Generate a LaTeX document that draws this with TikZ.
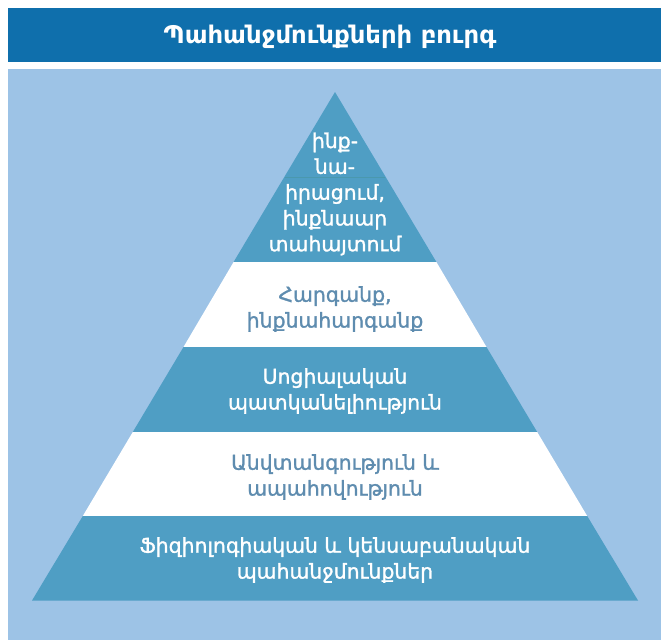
\documentclass[tikz,border=0pt]{standalone}
\usepackage{fontspec}
\setmainfont{DejaVu Sans}
\newfontfamily\semibfont[FakeBold=1.4]{DejaVu Sans}
\definecolor{titlebar}{HTML}{0F6FAC}
\definecolor{panel}{HTML}{9DC3E6}
\definecolor{band}{HTML}{4F9EC4}
\definecolor{bandline}{HTML}{4A98AE}
\definecolor{softtext}{HTML}{5E8CAF}
\tikzset{
  layertext/.style={align=center, font=\semibfont\fontsize{20.4}{25.8}\selectfont, inner sep=0pt},
  ontblue/.style={layertext, text=white},
  onwhite/.style={layertext, text=softtext},
}
\begin{document}
\begin{tikzpicture}[x=1pt,y=-1pt]
\useasboundingbox (0,0) rectangle (661,640);
\fill[white] (0,0) rectangle (661,640);
% title bar
\fill[titlebar] (8,8) rectangle (661,62);
\node[text=white, font=\fontsize{24.3}{28}\selectfont\bfseries, inner sep=0pt] (title) at (330,37) {Պահանջմունքների բուրգ};
% panel
\fill[panel] (8,69) rectangle (661,640);
% pyramid layers (apex 335,92 ; base 32..638 at 600)
\fill[band] (335,92) -- (436.4,262) -- (233.6,262) -- cycle;
\draw[bandline, line width=0.6pt] (284.6,177) -- (385.4,177);
\fill[white] (233.6,262) -- (436.4,262) -- (486.5,347) -- (183.5,347) -- cycle;
\fill[band] (183.5,347) -- (486.5,347) -- (537.2,432) -- (132.8,432) -- cycle;
\fill[white] (132.8,432) -- (537.2,432) -- (587.2,516) -- (82.8,516) -- cycle;
\fill[band] (82.8,516) -- (587.2,516) -- (638,600.5) -- (32,600.5) -- cycle;
% texts
\node[ontblue] (l5) at (335,194) {ինք-\\նա-\\իրացում,\\ինքնաար\\տահայտում};
\node[onwhite] (l4) at (335,309) {Հարգանք,\\ինքնահարգանք};
\node[ontblue] (l3) at (335,391) {Սոցիալական\\պատկանելիություն};
\node[onwhite] (l2) at (335,477) {Անվտանգություն և\\ապահովություն};
\node[ontblue] (l1) at (335,560) {Ֆիզիոլոգիական և կենսաբանական\\պահանջմունքներ};
\end{tikzpicture}
\end{document}
